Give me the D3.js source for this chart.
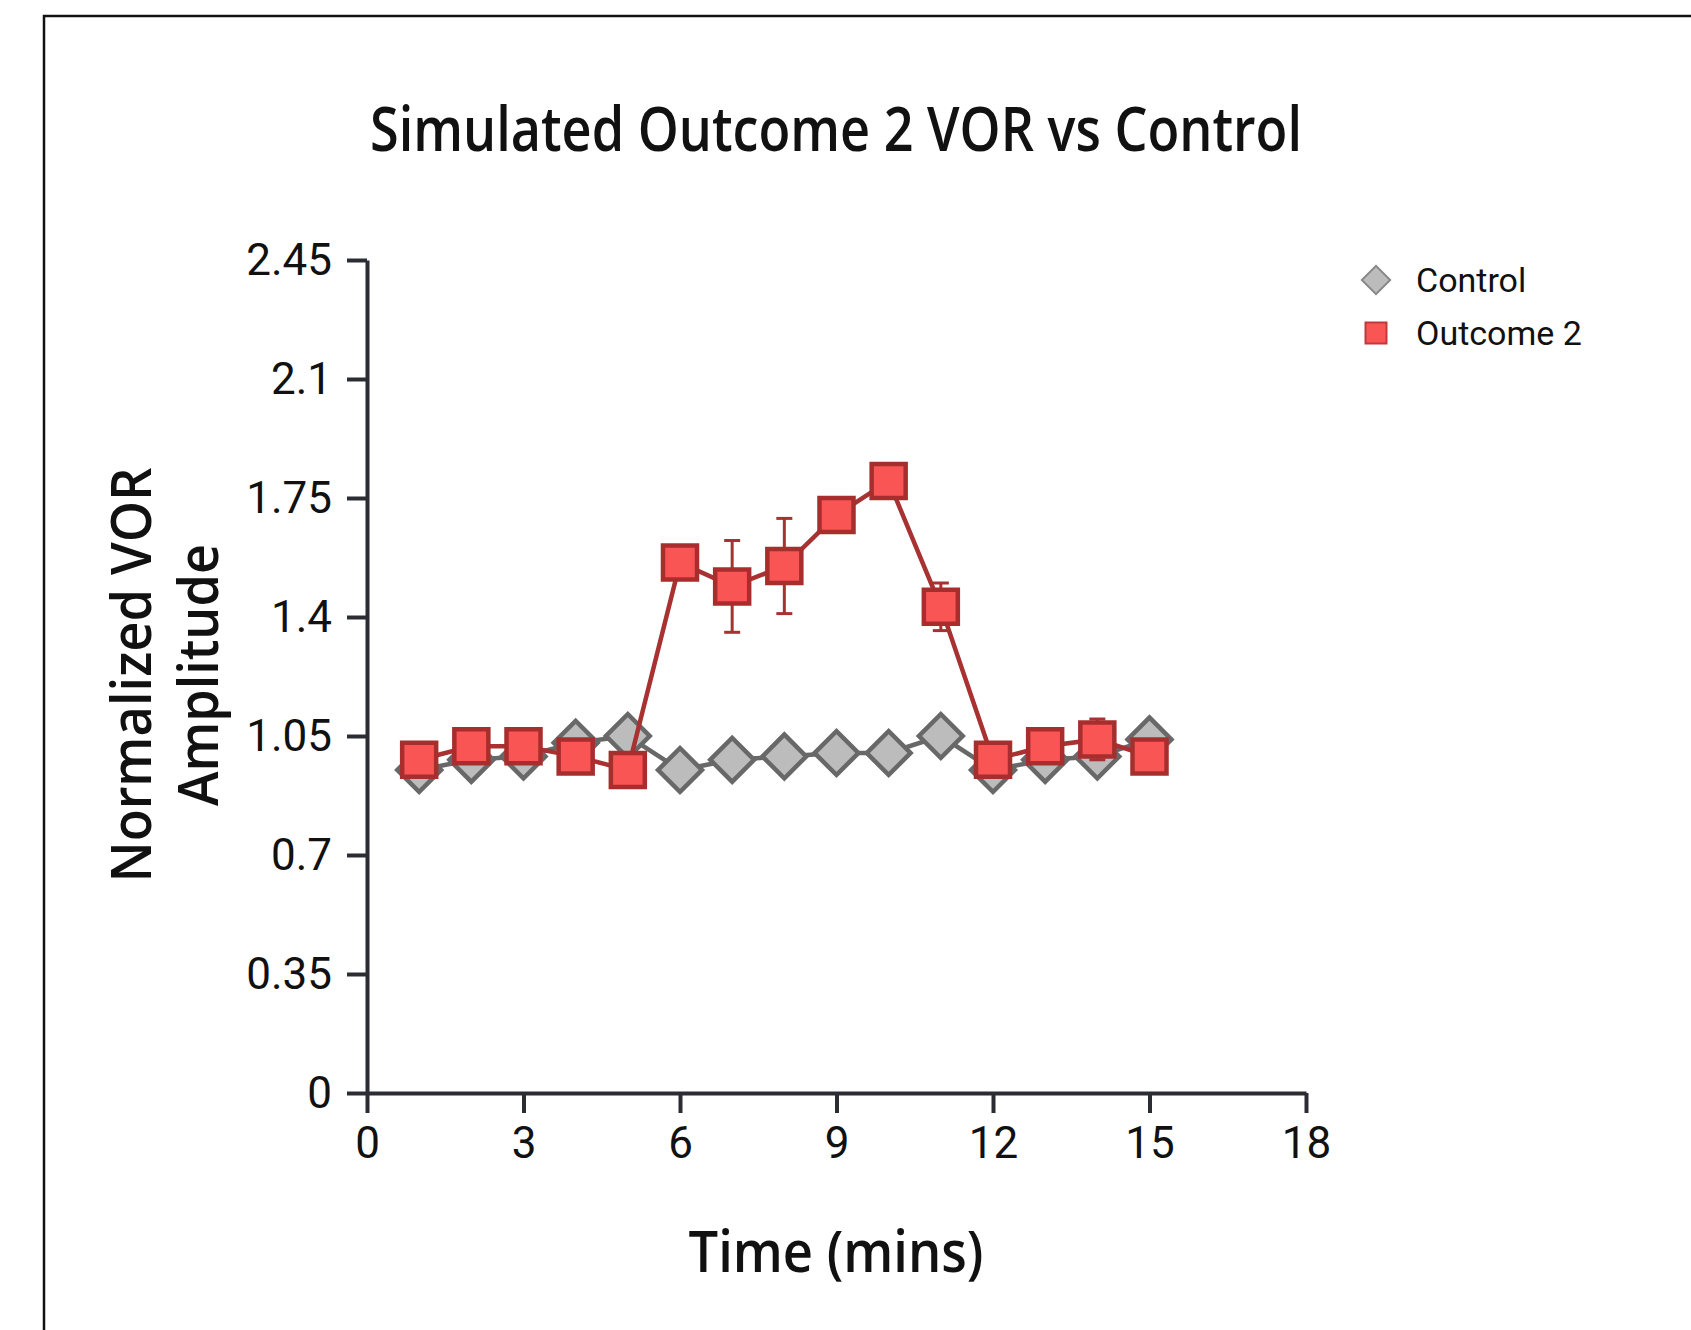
<!DOCTYPE html>
<html>
<head>
<meta charset="utf-8">
<script src="https://cdn.jsdelivr.net/npm/d3@7"></script>
<style>
  html, body { margin: 0; padding: 0; background: #fff; }
  svg { display: block; }
</style>
</head>
<body>
<svg id="chart" width="1691" height="1330"></svg>
<script>
// ---- data ----
const times = [1, 2, 3, 4, 5, 6, 7, 8, 9, 10, 11, 12, 13, 14, 15];
const controlValues = [0.95, 0.98, 0.99, 1.03, 1.05, 0.95, 0.98, 0.99, 1.0, 1.0, 1.05, 0.95, 0.98, 0.99, 1.04];
const controlErrors = [0.02, 0.02, 0.02, 0.02, 0.02, 0.02, 0.02, 0.02, 0.02, 0.02, 0.02, 0.02, 0.02, 0.02, 0.02];
const outcomeValues = [0.98, 1.02, 1.02, 0.99, 0.95, 1.56, 1.49, 1.55, 1.70, 1.80, 1.43, 0.98, 1.02, 1.04, 0.99];
const outcomeErrors = [0.02, 0.02, 0.02, 0.02, 0.02, 0.03, 0.135, 0.14, 0.03, 0.03, 0.07, 0.02, 0.02, 0.06, 0.02];
const yTicks = [0, 0.35, 0.7, 1.05, 1.4, 1.75, 2.1, 2.45];
const yTickLabels = ["0", "0.35", "0.7", "1.05", "1.4", "1.75", "2.1", "2.45"];
const xTicks = [0, 3, 6, 9, 12, 15, 18];
const xTickLabels = ["0", "3", "6", "9", "12", "15", "18"];
const seriesNames = ["Control", "Outcome 2"];
const titleText = "Simulated Outcome 2 VOR vs Control";
const xLabel = "Time (mins)";
const yLabelLines = ["Normalized VOR", "Amplitude"];

// ---- setup ----
const svg = d3.select("#chart");
const axisColor = "#2b2d33";
const x = d3.scaleLinear().domain([0, 18]).range([367, 1306]);
const y = d3.scaleLinear().domain([0, 2.45]).range([1093, 260]);

// frame
svg.append("rect")
  .attr("x", 44).attr("y", 16).attr("width", 1700).attr("height", 1400)
  .attr("fill", "none").attr("stroke", "#111").attr("stroke-width", 2.5);

// title
svg.append("text")
  .attr("x", 836).attr("y", 151)
  .attr("text-anchor", "middle")
  .attr("font-family", "'Open Sans', sans-serif")
  .attr("font-weight", 600)
  .attr("font-size", 62)
  .attr("fill", "#111")
  .attr("textLength", 932)
  .attr("lengthAdjust", "spacingAndGlyphs")
  .text(titleText);

// axes
const yAxis = d3.axisLeft(y)
  .tickValues(yTicks)
  .tickFormat((d, i) => yTickLabels[i])
  .tickSize(20).tickSizeOuter(0).tickPadding(15);
const xAxis = d3.axisBottom(x)
  .tickValues(xTicks)
  .tickFormat((d, i) => xTickLabels[i])
  .tickSize(20).tickSizeOuter(0).tickPadding(14);

const gy = svg.append("g").attr("transform", `translate(${x(0)},0)`).call(yAxis);
const gx = svg.append("g").attr("transform", `translate(0,${y(0)})`).call(xAxis);
[gx, gy].forEach(g => {
  g.select(".domain").attr("stroke", axisColor).attr("stroke-width", 4);
  g.selectAll(".tick line").attr("stroke", axisColor).attr("stroke-width", 4);
  g.selectAll(".tick text")
    .attr("fill", "#111")
    .attr("font-family", "Roboto, sans-serif")
    .attr("font-size", 44);
});

// axis titles
svg.append("text")
  .attr("x", 836).attr("y", 1272)
  .attr("text-anchor", "middle")
  .attr("font-family", "'Open Sans', sans-serif")
  .attr("font-weight", 600)
  .attr("font-size", 57)
  .attr("fill", "#111")
  .attr("textLength", 295)
  .attr("lengthAdjust", "spacingAndGlyphs")
  .text(xLabel);

const yLab = svg.append("g").attr("transform", "translate(0,675) rotate(-90)");
const yLabBaselines = [151, 218];
const yLabLengths = [415, 262];
yLabelLines.forEach((t, i) => {
  yLab.append("text")
    .attr("x", 0).attr("y", yLabBaselines[i])
    .attr("text-anchor", "middle")
    .attr("font-family", "'Open Sans', sans-serif")
    .attr("font-weight", 600)
    .attr("font-size", 56)
    .attr("fill", "#111")
    .attr("textLength", yLabLengths[i])
    .attr("lengthAdjust", "spacingAndGlyphs")
    .text(t);
});

// series drawing
const controlData = times.map((t, i) => ({ t, v: controlValues[i], e: controlErrors[i] }));
const outcomeData = times.map((t, i) => ({ t, v: outcomeValues[i], e: outcomeErrors[i] }));

const line = d3.line().x(d => x(d.t)).y(d => y(d.v));

function drawErrors(data, color) {
  const g = svg.append("g").attr("stroke", color).attr("stroke-width", 3).attr("fill", "none");
  data.forEach(d => {
    g.append("line").attr("x1", x(d.t)).attr("x2", x(d.t)).attr("y1", y(d.v - d.e)).attr("y2", y(d.v + d.e));
    g.append("line").attr("x1", x(d.t) - 8).attr("x2", x(d.t) + 8).attr("y1", y(d.v - d.e)).attr("y2", y(d.v - d.e));
    g.append("line").attr("x1", x(d.t) - 8).attr("x2", x(d.t) + 8).attr("y1", y(d.v + d.e)).attr("y2", y(d.v + d.e));
  });
}

// control
svg.append("path").datum(controlData)
  .attr("d", line).attr("fill", "none").attr("stroke", "#686868").attr("stroke-width", 4.5);
drawErrors(controlData, "#686868");
const diamond = d3.symbol().type(d3.symbolSquare).size(31 * 31);
svg.append("g").selectAll("path").data(controlData).join("path")
  .attr("d", diamond)
  .attr("transform", d => `translate(${x(d.t)},${y(d.v)}) rotate(45)`)
  .attr("fill", "#bcbcbc").attr("stroke", "#686868").attr("stroke-width", 4.5);

// outcome 2
svg.append("path").datum(outcomeData)
  .attr("d", line).attr("fill", "none").attr("stroke", "#a83232").attr("stroke-width", 4.5);
drawErrors(outcomeData, "#a83232");
const square = d3.symbol().type(d3.symbolSquare).size(34 * 34);
svg.append("g").selectAll("path").data(outcomeData).join("path")
  .attr("d", square)
  .attr("transform", d => `translate(${x(d.t)},${y(d.v)})`)
  .attr("fill", "#fa5555").attr("stroke", "#a82e2e").attr("stroke-width", 4.5);

// legend
const legend = svg.append("g");
const legendY = [280, 333];
legend.append("path")
  .attr("d", d3.symbol().type(d3.symbolSquare).size(20 * 20))
  .attr("transform", `translate(1376,${legendY[0]}) rotate(45)`)
  .attr("fill", "#bcbcbc").attr("stroke", "#888").attr("stroke-width", 2);
legend.append("path")
  .attr("d", d3.symbol().type(d3.symbolSquare).size(21 * 21))
  .attr("transform", `translate(1376,${legendY[1]})`)
  .attr("fill", "#fa5555").attr("stroke", "#c03a3a").attr("stroke-width", 2);
seriesNames.forEach((n, i) => {
  legend.append("text")
    .attr("x", 1416).attr("y", legendY[i] + 12)
    .attr("font-family", "Roboto, sans-serif")
    .attr("font-size", 34)
    .attr("fill", "#111")
    .text(n);
});
</script>
</body>
</html>
